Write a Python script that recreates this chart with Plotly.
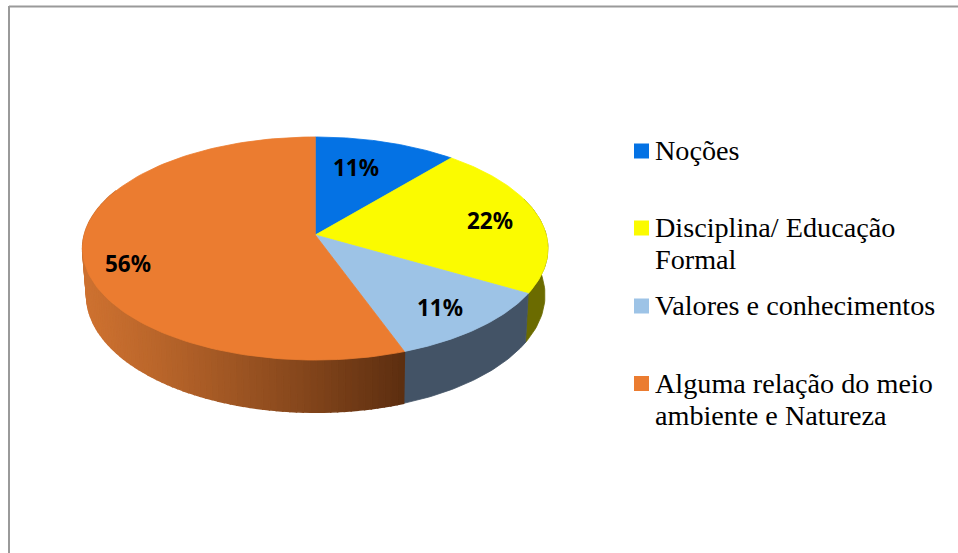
import numpy as np
import plotly.graph_objects as go

categories = ["Noções", "Disciplina/ Educação Formal", "Valores e conhecimentos",
              "Alguma relação do meio ambiente e Natureza"]
values = [1, 2, 1, 5]
legend_lines = [["Noções"], ["Disciplina/ Educação", "Formal"],
                ["Valores e conhecimentos"], ["Alguma relação do meio", "ambiente e Natureza"]]

top_colors = ["#0472E4", "#FBFB00", "#9DC3E6", "#EB7C30"]
side_colors = ["#024080", "#6B6B00", "#435366", None]
orange_left = np.array([205, 113, 48])
orange_right = np.array([92, 46, 16])

W, H = 958, 553
CX, CY = 315.3, 235
A, B, K = 231.0, 109.9, 0.121
SX, SY, DEPTH = 0.985, 1.05, 46


def top_pt(theta):
    u, v = np.sin(theta), np.cos(theta)
    w = 1 + K * v
    return CX + A * u / w, CY - B * v / w


def low_pt(theta):
    u, v = np.sin(theta), np.cos(theta)
    w = 1 + K * v
    return CX + SX * A * u / w + 0.5, CY + DEPTH - SY * B * v / w


fig = go.Figure()
edges = np.concatenate([[0], np.cumsum(values)]) / sum(values) * 2 * np.pi


def add_poly(xs, ys, color, width=0.8):
    fig.add_trace(go.Scatter(x=xs, y=ys, mode="lines", fill="toself", fillcolor=color,
                             line=dict(color=color, width=width), hoverinfo="skip",
                             showlegend=False))


def rgb(c):
    return "rgb(%d,%d,%d)" % tuple(np.round(c))


# side wall, back to front
for i in range(len(values)):
    t0, t1 = edges[i], edges[i + 1]
    if side_colors[i] is not None:
        if i == 0:
            continue
        t0v = max(t0, np.radians(70))
        th = np.linspace(t0v, t1, 40)
        tx, ty = top_pt(th)
        lx, ly = low_pt(th)
        add_poly(np.r_[tx, lx[::-1], tx[0]], np.r_[ty, ly[::-1], ty[0]], side_colors[i])
    else:
        t1v = min(t1, np.radians(295))
        steps = np.linspace(t0, t1v, 90)
        xr, xl = top_pt(t0)[0], top_pt(np.radians(270))[0]
        for a, b in zip(steps[:-1], steps[1:]):
            th = np.array([a, b])
            tx, ty = top_pt(th)
            lx, ly = low_pt(th)
            f = np.clip((tx.mean() - xl) / (xr - xl), 0, 1)
            f = f ** 1.15
            c = orange_left + (orange_right - orange_left) * f
            add_poly(np.r_[tx, lx[::-1], tx[0]], np.r_[ty, ly[::-1], ty[0]], rgb(c), width=1.5)

# top face
for i in range(len(values)):
    th = np.linspace(edges[i], edges[i + 1], 120)
    tx, ty = top_pt(th)
    add_poly(np.r_[CX, tx, CX], np.r_[CY, ty, CY], top_colors[i])

# percent labels
label_pos = [(356, 167.5), (490, 220.5), (440, 307.5), (128, 263.5)]
total = sum(values)
for (x, y), v in zip(label_pos, values):
    fig.add_annotation(x=x, y=y, text=f"<b>{round(100 * v / total)}%</b>", showarrow=False,
                       font=dict(family="Noto Sans", size=22.5, color="#000000"))

# legend
swatch_y = [151, 228, 306, 383.5]
text_y = [[150], [227, 259], [305], [383, 415]]
fig.add_trace(go.Scatter(x=[641.5] * 4, y=swatch_y, mode="markers", hoverinfo="skip", showlegend=False,
                         marker=dict(symbol="square", size=15, color=top_colors, line=dict(width=0))))
for lines, ys in zip(legend_lines, text_y):
    for line, y in zip(lines, ys):
        fig.add_annotation(x=653, y=y, text=line, showarrow=False, xanchor="left", yanchor="middle",
                           font=dict(family="Liberation Serif", size=28.2, color="#000000"))

frame = dict(color="#9A9A9A", width=2)
fig.add_shape(type="line", x0=9, x1=W, y0=6.5, y1=6.5, line=frame, layer="below")
fig.add_shape(type="line", x0=9, x1=9, y0=6, y1=H, line=frame, layer="below")

fig.update_layout(width=W, height=H, margin=dict(l=0, r=0, t=0, b=0),
                  paper_bgcolor="white", plot_bgcolor="white", showlegend=False,
                  xaxis=dict(range=[0, W], visible=False, fixedrange=True),
                  yaxis=dict(range=[H, 0], visible=False, fixedrange=True))
fig.write_html("out.html", config=dict(displayModeBar=False),
               post_script="document.body.style.margin='0';document.body.style.overflow='hidden';")
